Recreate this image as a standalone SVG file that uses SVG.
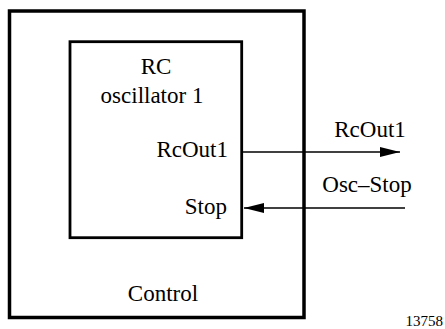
<svg xmlns="http://www.w3.org/2000/svg" width="445" height="329" viewBox="0 0 445 329">
<style>
text{font-family:'Liberation Serif','DejaVu Serif',serif}
.t{font-size:23px}
.box{fill:none;stroke:#000}
.ln{stroke:#000;stroke-width:1.3;fill:none}
</style>
<defs>
<marker id="ah" viewBox="0 0 20 10" refX="20" refY="5" markerWidth="20" markerHeight="10" markerUnits="userSpaceOnUse" orient="auto">
<path d="M0,0 L20,5 L0,10 Z" fill="#000"/>
</marker>
</defs>
<rect width="445" height="329" fill="#fff"/>
<g id="control">
<rect class="box" x="9.5" y="11" width="294.5" height="306.5" stroke-width="3.5"/>
<text class="t" x="163" y="301" text-anchor="middle">Control</text>
</g>
<g id="rc-oscillator">
<rect class="box" x="70" y="41.7" width="171.7" height="196" stroke-width="2.8"/>
<text class="t" x="156" y="74" text-anchor="middle">RC</text>
<text class="t" x="152" y="103" text-anchor="middle">oscillator 1</text>
<text class="t" x="228" y="157" text-anchor="end">RcOut1</text>
<text class="t" x="227" y="214" text-anchor="end">Stop</text>
</g>
<g id="connectors">
<line class="ln" x1="243" y1="152" x2="400" y2="152" marker-end="url(#ah)"/>
<line class="ln" x1="405" y1="208" x2="244" y2="208" marker-end="url(#ah)"/>
<text class="t" x="370" y="137" text-anchor="middle">RcOut1</text>
<text class="t" x="367" y="192" text-anchor="middle">Osc–Stop</text>
</g>
<text x="443" y="326" font-size="15" text-anchor="end">13758</text>
</svg>
